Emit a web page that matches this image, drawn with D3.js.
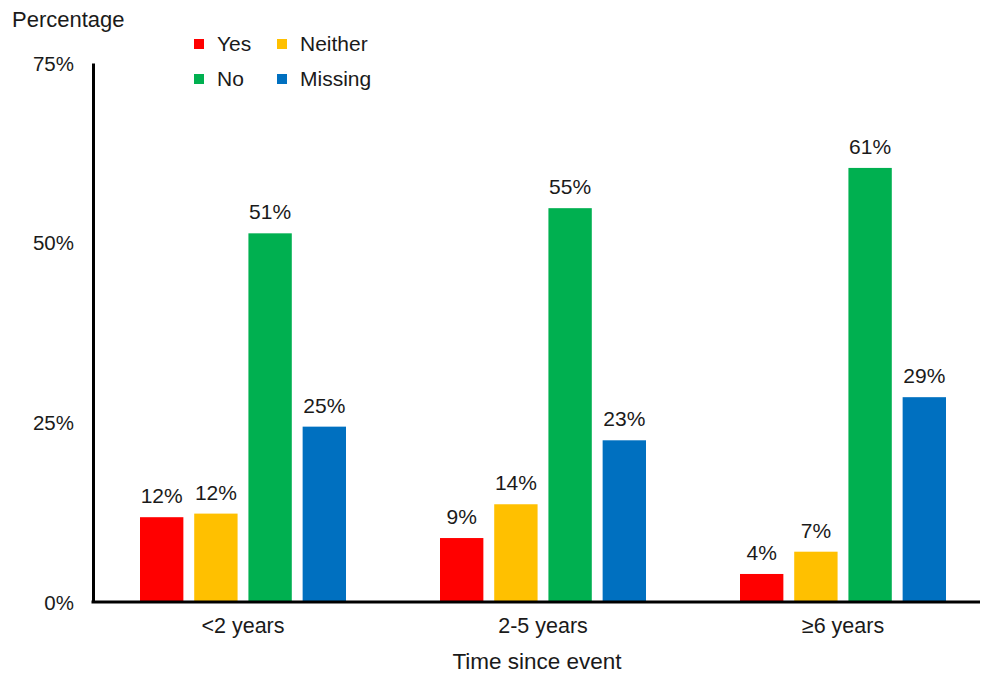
<!DOCTYPE html>
<html>
<head>
<meta charset="utf-8">
<script src="https://cdn.jsdelivr.net/npm/d3@7"></script>
<style>
  body { margin: 0; background: #fff; }
  svg { display: block; font-family: "Liberation Sans", Arial, sans-serif; }
</style>
</head>
<body>
<svg id="chart" width="981" height="675"></svg>
<script>
// categorias y series
var categorias = ['<2 years', '2-5 years', '\u22656 years'];
var series = ['Yes', 'Neither', 'No', 'Missing'];
var colores = ['#FF0000', '#FFC000', '#00B050', '#0070C0'];

// valores (%) por serie, en el orden de las categorias
var valoresYes = [11.8, 8.9, 3.9];
var valoresNeither = [12.3, 13.6, 7.0];
var valoresNo = [51.3, 54.8, 60.4];
var valoresMissing = [24.4, 22.5, 28.5];
var etiquetas = [
  ['12%', '9%', '4%'],
  ['12%', '14%', '7%'],
  ['51%', '55%', '61%'],
  ['25%', '23%', '29%']
];
var ticksY = [0, 25, 50, 75];

var valores = [valoresYes, valoresNeither, valoresNo, valoresMissing];

var svg = d3.select('#chart');

var x0 = d3.scaleBand().domain(categorias).range([93, 993]).padding(0);
var x1 = d3.scaleBand().domain(series).range([47, 253]).paddingInner(0.2);
var y = d3.scaleLinear().domain([0, 75]).range([602, 63]);

// barras
categorias.forEach(function(cat, ci){
  var g = svg.append('g')
      .attr('transform', 'translate(' + x0(cat) + ',0)');

  series.forEach(function(s, si){
    var v = valores[si][ci];
    g.append('rect')
        .attr('x', x1(s))
        .attr('width', x1.bandwidth())
        .attr('y', y(v))
        .attr('height', y(0) - y(v))
        .attr('fill', colores[si]);

    g.append('text')
        .attr('x', x1(s) + x1.bandwidth() / 2)
        .attr('y', y(v) - 14)
        .attr('text-anchor', 'middle')
        .attr('font-size', 21)
        .attr('fill', '#1a1a1a')
        .text(etiquetas[si][ci]);
  });
});

// eje y
var ejeY = svg.append('g')
    .attr('transform', 'translate(93,0)')
    .call(d3.axisLeft(y).tickValues(ticksY).tickSize(0).tickPadding(19)
      .tickFormat(function(d){ return d + '%'; }));
ejeY.select('.domain').attr('stroke', '#000').attr('stroke-width', 3);
ejeY.selectAll('text').attr('font-size', 20.5).attr('fill', '#1a1a1a')
    .attr('font-family', '"Liberation Sans", Arial, sans-serif')
    .attr('dy', '0.35em');

// eje x
var ejeX = svg.append('g')
    .attr('transform', 'translate(0,' + y(0) + ')')
    .call(d3.axisBottom(x0).tickSize(0).tickPadding(16));
ejeX.select('.domain').attr('d', 'M91.5,0H980').attr('stroke', '#000').attr('stroke-width', 3);
ejeX.selectAll('text').attr('font-size', 21.5).attr('fill', '#1a1a1a')
    .attr('font-family', '"Liberation Sans", Arial, sans-serif');

// titulos
svg.append('text')
    .attr('x', 12).attr('y', 27)
    .attr('font-size', 22).attr('fill', '#1a1a1a')
    .text('Percentage');

svg.append('text')
    .attr('x', 537).attr('y', 669)
    .attr('text-anchor', 'middle')
    .attr('font-size', 22.5).attr('fill', '#1a1a1a')
    .text('Time since event');

// leyenda
var leyenda = svg.append('g');
series.forEach(function(s, i){
  var col = i % 2, fila = Math.floor(i / 2);
  var g = leyenda.append('g')
      .attr('transform', 'translate(' + (194 + col * 83) + ',' + (39 + fila * 35) + ')');
  g.append('rect').attr('width', 10).attr('height', 10).attr('fill', colores[i]);
  g.append('text')
      .attr('x', 23).attr('y', 12)
      .attr('font-size', 21).attr('fill', '#1a1a1a')
      .text(s);
});
</script>
</body>
</html>
